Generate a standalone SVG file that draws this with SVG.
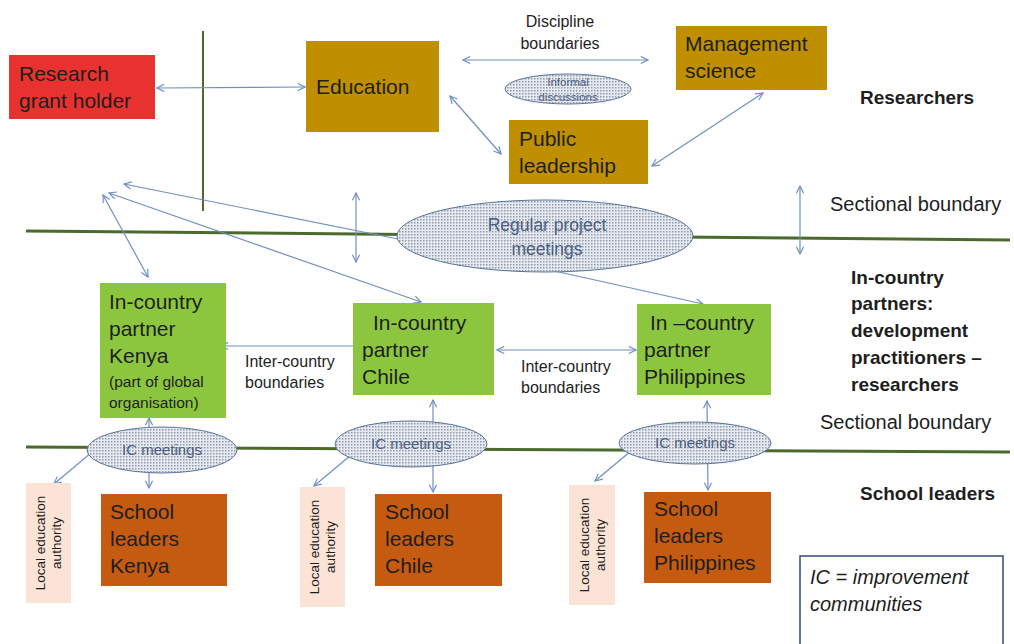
<svg xmlns="http://www.w3.org/2000/svg" width="1014" height="644" viewBox="0 0 1014 644">
<defs>
<pattern id="dots" width="3" height="3" patternUnits="userSpaceOnUse">
<rect width="3" height="3" fill="#e6eaf0"/>
<rect width="1.5" height="1.5" fill="#8e9aac"/>
</pattern>
<marker id="ah" viewBox="0 0 10 10" refX="9" refY="5" markerWidth="9" markerHeight="9" markerUnits="userSpaceOnUse" orient="auto-start-reverse">
<path d="M1,1 L9,5 L1,9" fill="none" stroke="#6f8fc2" stroke-width="1.3"/>
</marker>
<style>
text{font-family:"Liberation Sans",Arial,sans-serif;fill:#1e1e1e}
.bx{font-size:21px}
.lab{font-size:16px}
.bold{font-size:19px;font-weight:bold}
.sec{font-size:20px}
.ell{fill:url(#dots);stroke:#5c7398;stroke-width:1}
.et{fill:#4e5e80}
.arr{fill:none;stroke:#6f8fc2;stroke-width:1.2;marker-end:url(#ah)}
.arr2{fill:none;stroke:#6f8fc2;stroke-width:1.2;marker-end:url(#ah);marker-start:url(#ah)}
.gl{stroke:#4b6a2c;fill:none}
.gold{fill:#bf8f00}
.grn{fill:#8cc63f}
.org{fill:#c55a11}
.lea{fill:#fbe3d6}
</style>
</defs>

<g id="boundaries">
<line class="gl" x1="203" y1="31" x2="203" y2="211" stroke-width="2"/>
<line class="gl" x1="26" y1="231" x2="1010" y2="240" stroke-width="3"/>
<line class="gl" x1="26" y1="447" x2="1010" y2="452" stroke-width="3"/>
</g>

<g id="connectors">
<line class="arr2" x1="157" y1="88" x2="305" y2="87"/>
<line class="arr2" x1="463" y1="60" x2="648" y2="60"/>
<line class="arr2" x1="450" y1="96" x2="501" y2="154"/>
<line class="arr2" x1="763" y1="93" x2="652" y2="166"/>
<line class="arr2" x1="800" y1="186" x2="800" y2="254"/>
<line class="arr" x1="398" y1="239" x2="124" y2="184"/>
<line class="arr2" x1="109" y1="193" x2="421" y2="302"/>
<line class="arr2" x1="103" y1="195" x2="148" y2="277"/>
<line class="arr2" x1="356" y1="193" x2="356" y2="262"/>
<line class="arr" x1="550" y1="270" x2="703" y2="304"/>
<line class="arr2" x1="221" y1="346" x2="360" y2="346"/>
<line class="arr2" x1="497" y1="350" x2="636" y2="350"/>
<line class="arr2" x1="149" y1="418" x2="149" y2="488"/>
<line class="arr2" x1="98" y1="447" x2="54" y2="484"/>
<line class="arr2" x1="433" y1="400" x2="433" y2="492"/>
<line class="arr2" x1="357" y1="450" x2="314" y2="486"/>
<line class="arr2" x1="707" y1="401" x2="708" y2="490"/>
<line class="arr2" x1="637" y1="446" x2="595" y2="481"/>
</g>

<g id="research-grant-holder">
<rect x="9" y="55" width="146" height="64" fill="#e8322f"/>
<text class="bx" x="19" y="81">Research</text>
<text class="bx" x="19" y="108">grant holder</text>
</g>

<g id="education">
<rect class="gold" x="306" y="41" width="133" height="91"/>
<text class="bx" x="316" y="94">Education</text>
</g>

<g id="discipline-label">
<text class="lab" x="560" y="27" text-anchor="middle">Discipline</text>
<text class="lab" x="560" y="49" text-anchor="middle">boundaries</text>
</g>

<g id="informal-discussions">
<ellipse class="ell" cx="568" cy="89" rx="63" ry="15"/>
<text class="et" x="568" y="86" font-size="11.5" text-anchor="middle">Informal</text>
<text class="et" x="568" y="101" font-size="11.5" text-anchor="middle">discussions</text>
</g>

<g id="management-science">
<rect class="gold" x="676" y="26" width="151" height="64"/>
<text class="bx" x="685" y="51">Management</text>
<text class="bx" x="685" y="78">science</text>
</g>

<g id="public-leadership">
<rect class="gold" x="509" y="120" width="139" height="64"/>
<text class="bx" x="519" y="146">Public</text>
<text class="bx" x="519" y="173">leadership</text>
</g>

<g id="researchers-label">
<text class="bold" x="860" y="104">Researchers</text>
</g>

<g id="sectional-boundary-1">
<text class="sec" x="830" y="211">Sectional boundary</text>
</g>

<g id="regular-project-meetings">
<ellipse class="ell" cx="545" cy="236" rx="148" ry="36"/>
<text class="et" x="547" y="231" font-size="17.5" text-anchor="middle">Regular project</text>
<text class="et" x="547" y="255" font-size="17.5" text-anchor="middle">meetings</text>
</g>

<g id="partner-kenya">
<rect class="grn" x="100" y="283" width="126" height="135"/>
<text class="bx" x="109" y="309">In-country</text>
<text class="bx" x="109" y="336">partner</text>
<text class="bx" x="109" y="363">Kenya</text>
<text font-size="15.5" x="109" y="387">(part of global</text>
<text font-size="15.5" x="109" y="408">organisation)</text>
</g>

<g id="inter-country-1">
<text class="lab" x="245" y="367">Inter-country</text>
<text class="lab" x="245" y="388">boundaries</text>
</g>

<g id="partner-chile">
<rect class="grn" x="353" y="303" width="141" height="92"/>
<text class="bx" x="373" y="330">In-country</text>
<text class="bx" x="362" y="357">partner</text>
<text class="bx" x="362" y="384">Chile</text>
</g>

<g id="inter-country-2">
<text class="lab" x="521" y="372">Inter-country</text>
<text class="lab" x="521" y="393">boundaries</text>
</g>

<g id="partner-philippines">
<rect class="grn" x="637" y="304" width="134" height="91"/>
<text class="bx" x="650" y="330">In –country</text>
<text class="bx" x="644" y="357">partner</text>
<text class="bx" x="644" y="384">Philippines</text>
</g>

<g id="in-country-label">
<text class="bold" x="851" y="284">In-country</text>
<text class="bold" x="851" y="310">partners:</text>
<text class="bold" x="851" y="337">development</text>
<text class="bold" x="851" y="364">practitioners –</text>
<text class="bold" x="851" y="391">researchers</text>
</g>

<g id="sectional-boundary-2">
<text class="sec" x="820" y="429">Sectional boundary</text>
</g>

<g id="ic-kenya">
<ellipse class="ell" cx="162" cy="450" rx="75" ry="23"/>
<text class="et" x="162" y="455" font-size="15" text-anchor="middle">IC meetings</text>
</g>
<g id="ic-chile">
<ellipse class="ell" cx="411" cy="444" rx="76" ry="23"/>
<text class="et" x="411" y="449" font-size="15" text-anchor="middle">IC meetings</text>
</g>
<g id="ic-philippines">
<ellipse class="ell" cx="695" cy="443" rx="76" ry="21"/>
<text class="et" x="695" y="448" font-size="15" text-anchor="middle">IC  meetings</text>
</g>

<g id="lea-kenya">
<rect class="lea" x="26" y="483" width="45" height="120"/>
<text font-size="13.5" transform="translate(48,543) rotate(-90)" text-anchor="middle"><tspan x="0" y="-3">Local education</tspan><tspan x="0" y="13">authority</tspan></text>
</g>
<g id="lea-chile">
<rect class="lea" x="300" y="487" width="45" height="120"/>
<text font-size="13.5" transform="translate(322,547) rotate(-90)" text-anchor="middle"><tspan x="0" y="-3">Local education</tspan><tspan x="0" y="13">authority</tspan></text>
</g>
<g id="lea-philippines">
<rect class="lea" x="569" y="485" width="46" height="120"/>
<text font-size="13.5" transform="translate(592,545) rotate(-90)" text-anchor="middle"><tspan x="0" y="-3">Local education</tspan><tspan x="0" y="13">authority</tspan></text>
</g>

<g id="school-kenya">
<rect class="org" x="101" y="494" width="126" height="92"/>
<text class="bx" x="110" y="519">School</text>
<text class="bx" x="110" y="546">leaders</text>
<text class="bx" x="110" y="573">Kenya</text>
</g>
<g id="school-chile">
<rect class="org" x="375" y="494" width="127" height="92"/>
<text class="bx" x="385" y="519">School</text>
<text class="bx" x="385" y="546">leaders</text>
<text class="bx" x="385" y="573">Chile</text>
</g>
<g id="school-philippines">
<rect class="org" x="644" y="492" width="127" height="91"/>
<text class="bx" x="654" y="516">School</text>
<text class="bx" x="654" y="543">leaders</text>
<text class="bx" x="654" y="570">Philippines</text>
</g>

<g id="school-leaders-label">
<text class="bold" x="860" y="500">School leaders</text>
</g>

<g id="ic-legend">
<rect x="800" y="556" width="203" height="100" fill="#fff" stroke="#2f4a7a" stroke-width="1.5"/>
<text font-size="20" font-style="italic" x="810" y="584">IC = improvement</text>
<text font-size="20" font-style="italic" x="810" y="611">communities</text>
</g>
</svg>
